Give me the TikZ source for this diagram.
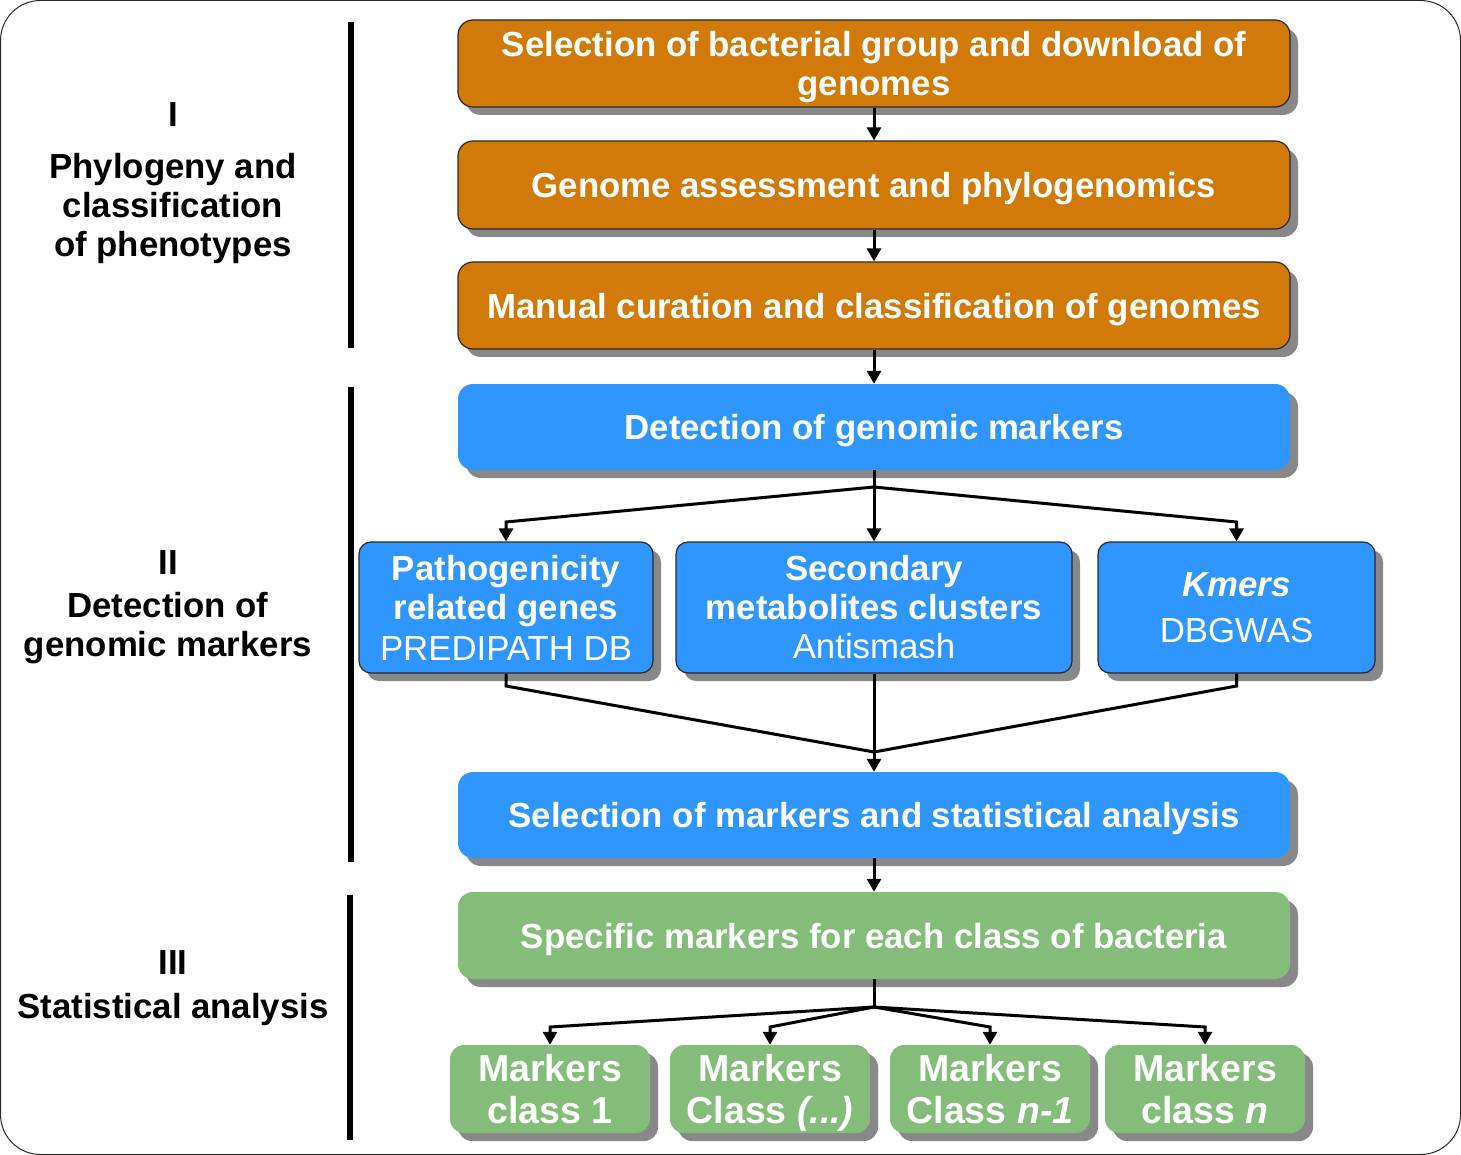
\documentclass[tikz,border=0pt]{standalone}
\usepackage{fontspec}
\setmainfont{Liberation Sans}
\usetikzlibrary{arrows.meta,shadows}
\definecolor{orng}{RGB}{209,122,10}
\definecolor{blu}{RGB}{47,149,255}
\definecolor{grn}{RGB}{131,189,121}
\definecolor{shd}{RGB}{136,136,136}
\definecolor{frm}{RGB}{40,40,40}
\begin{document}
\begin{tikzpicture}[x=1pt,y=-1pt,
  shad/.style={drop shadow={shadow xshift=8pt,shadow yshift=-8pt,fill=shd,opacity=1}},
  bigbox/.style={shad,rounded corners=15pt,minimum width=832pt,inner sep=0pt,align=center,text=white,
     text depth=0pt,font=\fontsize{34.8}{39}\selectfont\bfseries},
  obox/.style={bigbox,fill=orng,draw=frm,line width=1.2pt},
  bbox/.style={bigbox,fill=blu},
  gbox/.style={bigbox,fill=grn},
  sbox/.style={shad,rounded corners=12pt,fill=blu,draw=frm,line width=1.2pt,minimum height=131pt,inner sep=0pt,
     align=center,text=white,font=\fontsize{34.8}{39}\selectfont},
  mbox/.style={shad,rounded corners=14pt,fill=grn,minimum width=200pt,minimum height=88pt,inner sep=0pt,
     align=center,text=white,text depth=0pt,font=\fontsize{37.5}{42}\selectfont\bfseries},
  lab/.style={align=center,font=\fontsize{34.8}{39}\selectfont\bfseries,inner sep=0pt},
  conn/.style={line width=3pt,draw=black},
  arr/.style={conn,-{Triangle[length=13pt,width=14pt]}},
  bar/.style={line width=6pt,draw=black}]
\useasboundingbox (0,0) rectangle (1461,1155);
\draw[frm,line width=1pt,rounded corners=40pt] (0.5,0.5) rectangle (1460.5,1154.5);

% left labels
\node[lab] (t1) at (173,115) {I};
\node[lab] (t1b) at (173,209) {Phylogeny and\\classification\\of phenotypes};
\node[lab] (t2) at (168,563) {II};
\node[lab] (t2b) at (168,628) {Detection of\\genomic markers};
\node[lab] (t3) at (173,963) {III};
\node[lab] (t3b) at (173,1009) {Statistical analysis};
\draw[bar] (351,22) -- (351,348);
\draw[bar] (351,387) -- (351,862);
\draw[bar] (350,895) -- (350,1140);

% main boxes
\node[obox,minimum height=87pt] (b1) at (874,63.5) {Selection of bacterial group and download of\\genomes};
\node[obox,minimum height=88pt] (b2) at (874,185) {Genome assessment and phylogenomics};
\node[obox,minimum height=87pt] (b3) at (874,305.5) {Manual curation and classification of genomes};
\node[bbox,minimum height=86pt] (b4) at (874,427) {Detection of genomic markers};
\node[sbox,minimum width=294pt] (s1) at (506,607.5) {\textbf{Pathogenicity}\\\textbf{related genes}\\[2pt]PREDIPATH DB};
\node[sbox,minimum width=396pt] (s2) at (874,607.5) {\textbf{Secondary}\\\textbf{metabolites clusters}\\Antismash};
\node[sbox,minimum width=277pt] (s3) at (1236.5,607.5) {\textbf{\textit{Kmers}}\\[7pt]DBGWAS};
\node[bbox,minimum height=86pt] (b5) at (874,815) {Selection of markers and statistical analysis};
\node[gbox,minimum height=87pt] (g1) at (874,935.5) {Specific markers for each class of bacteria};
\node[mbox] (m1) at (550,1089) {Markers\\class 1};
\node[mbox] (m2) at (770,1089) {Markers\\Class \textit{(...)}};
\node[mbox] (m3) at (990,1089) {Markers\\Class \textit{n-1}};
\node[mbox] (m4) at (1205,1089) {Markers\\class \textit{n}};

% connectors
\draw[arr] (b1.south) -- (b2.north);
\draw[arr] (b2.south) -- (b3.north);
\draw[arr] (b3.south) -- (b4.north);

\coordinate (br) at (874,487);
\coordinate (k1) at (506,522);
\coordinate (k3) at (1236.5,522);
\draw[conn] (b4.south) -- (br);
\draw[arr] (br) -- (s2.north);
\draw[arr] (br) -- (k1) -- (s1.north);
\draw[arr] (br) -- (k3) -- (s3.north);

\coordinate (mg) at (874,752);
\coordinate (j1) at (506,686);
\coordinate (j3) at (1236.5,686);
\draw[conn] (s1.south) -- (j1) -- (mg);
\draw[conn] (s3.south) -- (j3) -- (mg);
\draw[arr] (s2.south) -- (b5.north);

\draw[arr] (b5.south) -- (g1.north);

\coordinate (gb) at (874,1007);
\coordinate (q1) at (550,1027);
\coordinate (q2) at (770,1027);
\coordinate (q3) at (990,1027);
\coordinate (q4) at (1205,1027);
\draw[conn] (g1.south) -- (gb);
\draw[arr] (gb) -- (q1) -- (m1.north);
\draw[arr] (gb) -- (q2) -- (m2.north);
\draw[arr] (gb) -- (q3) -- (m3.north);
\draw[arr] (gb) -- (q4) -- (m4.north);
\end{tikzpicture}
\end{document}
